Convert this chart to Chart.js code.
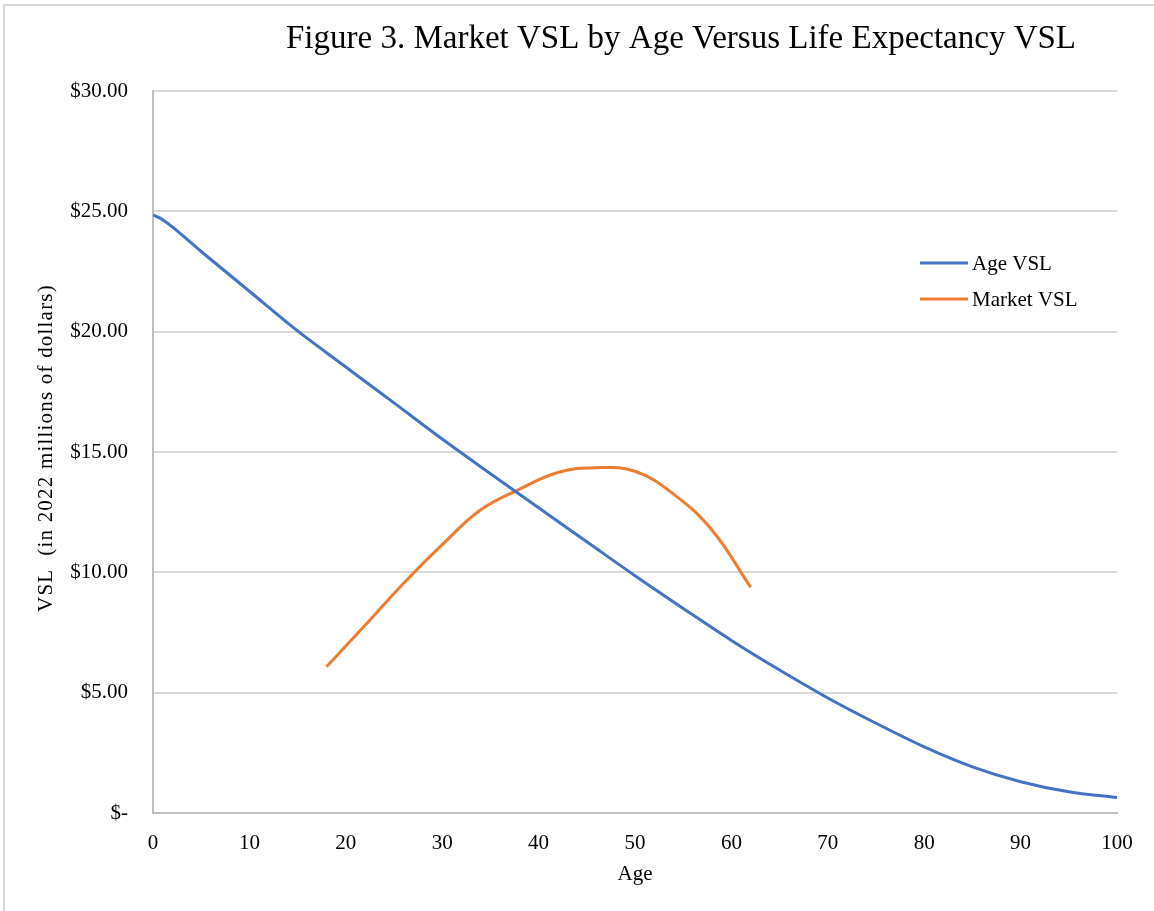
<!DOCTYPE html>
<html>
<head>
<meta charset="utf-8">
<script src="https://cdn.jsdelivr.net/npm/chart.js@4/dist/chart.umd.min.js"></script>
<style>
  html, body { margin: 0; padding: 0; background: #fff; overflow: hidden; }
  #wrap { position: relative; width: 1154px; height: 911px; }
  #frame { position: absolute; left: 3px; top: 4px; width: 1170px; height: 930px; border: 2px solid #d9d9d9; box-sizing: border-box; }
  canvas { position: absolute; left: 0; top: 0; }
</style>
</head>
<body>
<div id="wrap">
  <div id="frame"></div>
  <canvas id="vslChart" width="1154" height="911"></canvas>
</div>
<script>
const titleText = 'Figure 3. Market VSL by Age Versus Life Expectancy VSL';
const yTitleText = 'VSL  (in 2022 millions of dollars)';

// Age VSL (life expectancy based), values in 2022 $ millions
const ageVslAges = [0, 1, 5, 10, 15, 20, 25, 30, 35, 40, 45, 50, 55, 60, 65, 70, 75, 80, 85, 90, 95, 100];
const ageVslValues = [24.85, 24.65, 23.33, 21.68, 20.03, 18.53, 17.04, 15.54, 14.1, 12.68, 11.27, 9.86, 8.5, 7.17, 5.94, 4.78, 3.73, 2.75, 1.92, 1.3, 0.88, 0.64];

// Market VSL by age
const marketAges = [18, 22, 26, 30, 34, 38, 42, 46, 50, 54, 58, 62];
const marketValues = [6.08, 7.8, 9.55, 11.15, 12.6, 13.45, 14.15, 14.35, 14.2, 13.25, 11.75, 9.38];

const xTicks = [0, 10, 20, 30, 40, 50, 60, 70, 80, 90, 100];
const yTicks = [0, 5, 10, 15, 20, 25, 30];

const serif = '"Liberation Serif", "Times New Roman", serif';

const toPoints = (xs, ys) => xs.map((x, i) => ({ x: x, y: ys[i] }));

// title, y title and legend drawn by hand so they sit where the original has them
const figureText = {
  id: 'figureText',
  afterDraw(chart) {
    const ctx = chart.ctx;
    const area = chart.chartArea;
    ctx.save();
    ctx.fillStyle = '#000';
    ctx.font = '33px ' + serif;
    ctx.textAlign = 'center';
    ctx.textBaseline = 'alphabetic';
    ctx.fillText(titleText, 681, 48);

    ctx.save();
    ctx.font = '21px ' + serif;
    ctx.letterSpacing = '1.2px';
    ctx.translate(46, (area.top + area.bottom) / 2 - 4);
    ctx.rotate(-Math.PI / 2);
    ctx.textBaseline = 'middle';
    ctx.fillText(yTitleText, 0, 0);
    ctx.restore();

    ctx.font = '21px ' + serif;
    ctx.textAlign = 'left';
    ctx.textBaseline = 'middle';
    chart.data.datasets.forEach((ds, i) => {
      const y = 263 + i * 36;
      ctx.strokeStyle = ds.borderColor;
      ctx.lineWidth = 3;
      ctx.beginPath();
      ctx.moveTo(920, y);
      ctx.lineTo(968, y);
      ctx.stroke();
      ctx.fillText(ds.label, 972, y + 1);
    });
    ctx.restore();
  }
};

const ctx = document.getElementById('vslChart').getContext('2d');
new Chart(ctx, {
  type: 'line',
  data: {
    datasets: [{
      label: 'Age VSL',
      data: toPoints(ageVslAges, ageVslValues),
      borderColor: '#4472C4',
      borderWidth: 3,
      pointRadius: 0,
      cubicInterpolationMode: 'monotone',
      fill: false,
    }, {
      label: 'Market VSL',
      data: toPoints(marketAges, marketValues),
      borderColor: '#ED7D31',
      borderWidth: 3,
      pointRadius: 0,
      tension: 0.4,
      fill: false,
    }],
  },
  options: {
    responsive: false,
    animation: false,
    layout: { padding: { top: 91, right: 37, bottom: 0, left: 0 } },
    plugins: {
      legend: { display: false },
      title: { display: false },
      tooltip: { enabled: false },
    },
    scales: {
      x: {
        type: 'linear',
        min: 0,
        max: 100,
        afterFit: (scale) => { scale.height = 98; },
        afterBuildTicks: (scale) => { scale.ticks = xTicks.map(v => ({ value: v })); },
        grid: { display: false, drawTicks: false },
        border: { display: true, color: '#bfbfbf', width: 2 },
        ticks: {
          padding: 18,
          color: '#000',
          font: { family: serif, size: 21 },
          maxRotation: 0,
        },
        title: {
          display: true,
          text: 'Age',
          color: '#000',
          font: { family: serif, size: 21 },
          padding: { top: 0, bottom: 24 },
        },
      },
      y: {
        type: 'linear',
        min: 0,
        max: 30,
        afterFit: (scale) => { scale.width = 153; },
        afterBuildTicks: (scale) => { scale.ticks = yTicks.map(v => ({ value: v })); },
        grid: { color: '#d9d9d9', lineWidth: 2, drawTicks: false },
        border: { display: true, color: '#bfbfbf', width: 2 },
        ticks: {
          padding: 25,
          color: '#000',
          font: { family: serif, size: 21 },
          callback: (v) => v === 0 ? '$-' : '$' + v.toFixed(2),
        },
        title: { display: false },
      },
    },
  },
  plugins: [figureText],
});
</script>
</body>
</html>
